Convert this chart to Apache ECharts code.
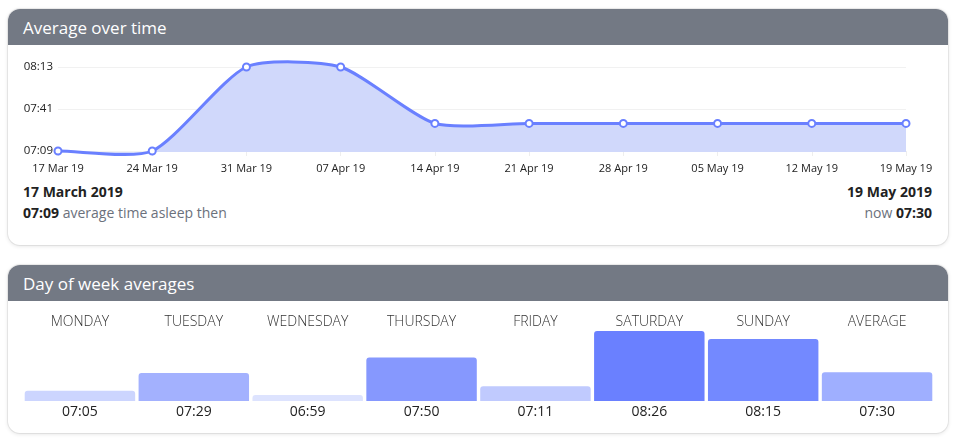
<!DOCTYPE html>
<html>
<head>
<meta charset="utf-8">
<script src="https://cdn.jsdelivr.net/npm/echarts@6/dist/echarts.min.js"></script>
<style>
  html, body { margin: 0; padding: 0; background: #ffffff; width: 959px; height: 446px; overflow: hidden; font-family: "Open Sans", sans-serif; }
  .card { position: absolute; left: 8px; width: 940px; background: #fff; border-radius: 12px; box-shadow: 0 0 0 1px rgba(0,0,0,0.06), 0 1px 4px rgba(0,0,0,0.12); overflow: hidden; }
  .hdr { height: 36px; background: #737984; color: #fff; font-size: 17px; line-height: 38px; padding-left: 15px; }
  #card1 { top: 9px; height: 236px; }
  #card2 { top: 265px; height: 168px; }
  #chart1 { position: absolute; left: 0; top: 36px; width: 940px; height: 130px; }
  #chart2 { position: absolute; left: 0; top: 36px; width: 940px; height: 132px; }
  .info { position: absolute; font-size: 14px; color: #222; line-height: 20px; }
  .info b { font-weight: 700; }
  .muted { color: #6b717c; }
</style>
</head>
<body>
<div class="card" id="card1">
  <div class="hdr">Average over time</div>
  <div id="chart1"></div>
  <div class="info" id="startDate" style="left:15px; top:173px;"></div>
  <div class="info" id="startVal" style="left:15px; top:194px;"></div>
  <div class="info" id="endDate" style="right:16px; top:173px; text-align:right;"></div>
  <div class="info" id="endVal" style="right:16px; top:194px; text-align:right;"></div>
</div>
<div class="card" id="card2">
  <div class="hdr">Day of week averages</div>
  <div id="chart2"></div>
</div>
<script>
// ---- data ----
const weekLabels = ['17 Mar 19','24 Mar 19','31 Mar 19','07 Apr 19','14 Apr 19','21 Apr 19','28 Apr 19','05 May 19','12 May 19','19 May 19'];
const weekMinutes = [429, 429, 493, 493, 450, 450, 450, 450, 450, 450];
const startDateLabel = '17 March 2019';
const endDateLabel = '19 May 2019';
const dayNames = ['MONDAY','TUESDAY','WEDNESDAY','THURSDAY','FRIDAY','SATURDAY','SUNDAY','AVERAGE'];
const dayMinutes = [425, 449, 419, 470, 431, 506, 495, 450];
const barColors = ['#ccd5fe','#a3b1fe','#dde3fe','#8698fe','#c0cafe','#6a80ff','#7389ff','#9fafff'];

function hm(m) {
  const h = Math.floor(m / 60), mm = Math.round(m % 60);
  return String(h).padStart(2,'0') + ':' + String(mm).padStart(2,'0');
}

document.getElementById('startDate').innerHTML = '<b>' + startDateLabel + '</b>';
document.getElementById('startVal').innerHTML = '<b>' + hm(weekMinutes[0]) + '</b> <span class="muted">average time asleep then</span>';
document.getElementById('endDate').innerHTML = '<b>' + endDateLabel + '</b>';
document.getElementById('endVal').innerHTML = '<span class="muted">now</span> <b>' + hm(weekMinutes[weekMinutes.length-1]) + '</b>';

const font = '"Open Sans", sans-serif';
const yMin = 429, yMax = 493;
const tension = 0.22;

function splinePaths(pts, baseY) {
  const n = pts.length;
  const cps = pts.map((p, i) => {
    const prev = pts[Math.max(0, i - 1)], next = pts[Math.min(n - 1, i + 1)];
    const d01 = Math.hypot(p[0] - prev[0], p[1] - prev[1]);
    const d12 = Math.hypot(next[0] - p[0], next[1] - p[1]);
    const s01 = d01 / (d01 + d12 || 1), s12 = d12 / (d01 + d12 || 1);
    const fa = tension * s01, fb = tension * s12;
    return {
      prev: [p[0] - fa * (next[0] - prev[0]), p[1] - fa * (next[1] - prev[1])],
      next: [p[0] + fb * (next[0] - prev[0]), p[1] + fb * (next[1] - prev[1])]
    };
  });
  let d = 'M' + pts[0][0] + ' ' + pts[0][1];
  for (let i = 1; i < n; i++) {
    const a = cps[i - 1].next, b = cps[i].prev, p = pts[i];
    d += ' C' + a[0] + ' ' + a[1] + ' ' + b[0] + ' ' + b[1] + ' ' + p[0] + ' ' + p[1];
  }
  const area = d + ' L' + pts[n - 1][0] + ' ' + baseY + ' L' + pts[0][0] + ' ' + baseY + ' Z';
  return { line: d, area: area };
}

const c1 = echarts.init(document.getElementById('chart1'), null, {renderer: 'canvas'});
c1.setOption({
  animation: false,
  grid: { left: 50, right: 42, top: 22, height: 84 },
  xAxis: {
    type: 'category', data: weekLabels, boundaryGap: false,
    axisLine: { show: false },
    axisTick: { show: true, length: 5, lineStyle: { color: '#eeeeee' } },
    axisLabel: { color: '#222', fontSize: 11, fontFamily: font, margin: 12 }
  },
  yAxis: {
    type: 'value', min: yMin, max: yMax, interval: 32,
    axisLine: { show: false }, axisTick: { show: false },
    axisLabel: { color: '#222', fontSize: 11.5, fontFamily: font, margin: 5, formatter: v => hm(v) },
    splitLine: { lineStyle: { color: '#f1f1f1' } }
  },
  series: [{
    type: 'custom',
    data: weekMinutes.map((v, i) => [i, v]),
    encode: { x: 0, y: 1 },
    z: 1,
    renderItem: function (params, api) {
      if (params.dataIndex !== 0) return null;
      const pts = weekMinutes.map((v, i) => api.coord([i, v]));
      const baseY = api.coord([0, yMin])[1] + 1;
      const p = splinePaths(pts, baseY);
      return {
        type: 'group',
        children: [
          { type: 'path', shape: { pathData: p.area }, style: { fill: '#d0d8fb', stroke: null } },
          { type: 'path', shape: { pathData: p.line }, style: { fill: null, stroke: '#6a80ff', lineWidth: 3 } }
        ]
      };
    }
  }, {
    type: 'line', data: weekMinutes, z: 3,
    symbol: 'circle', symbolSize: 7,
    lineStyle: { opacity: 0 },
    itemStyle: { color: '#ffffff', borderWidth: 2, borderColor: '#6a80ff' }
  }]
});

const c2 = echarts.init(document.getElementById('chart2'), null, {renderer: 'canvas'});
c2.setOption({
  animation: false,
  grid: { left: 15, right: 14, top: 30, bottom: 32 },
  xAxis: [{
    type: 'category', data: dayNames, position: 'top',
    axisLine: { show: false }, axisTick: { show: false },
    axisLabel: { color: '#333', fontSize: 14, fontWeight: 300, fontFamily: font, margin: 2, interval: 0 }
  }],
  yAxis: { type: 'value', min: 411, max: 506, show: false },
  series: [{
    type: 'bar', barCategoryGap: '3%',
    data: dayMinutes.map((v, i) => ({ value: v, itemStyle: { color: barColors[i] } })),
    itemStyle: { borderRadius: [3, 3, 0, 0] },
    label: { show: true, position: 'bottom', distance: 4, color: '#222', fontSize: 14, fontFamily: font, formatter: p => hm(p.value) }
  }]
});
</script>
</body>
</html>
